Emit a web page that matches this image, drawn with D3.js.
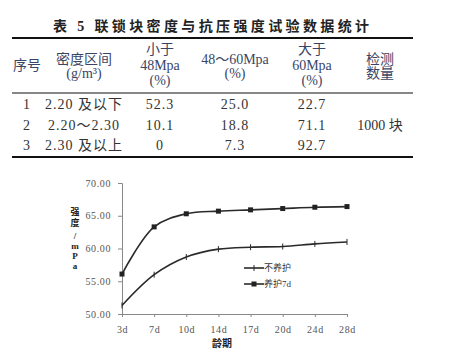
<!DOCTYPE html>
<html>
<head>
<meta charset="utf-8">
<script src="https://cdn.jsdelivr.net/npm/d3@7/dist/d3.min.js"></script>
<style>
  body { margin: 0; background: #fff; }
  svg { display: block; }
</style>
</head>
<body>
<div id="chart"></div>
<script>
// table data
const tableTitle = '表 5 联锁块密度与抗压强度试验数据统计'
const headerLines = [
  ['序号'],
  ['密度区间', '(g/m³)'],
  ['小于', '48Mpa', '(%)'],
  ['48～60Mpa', '(%)'],
  ['大于', '60Mpa', '(%)'],
  ['检测', '数量']
]
const rowIds = ['1', '2', '3']
const densityRanges = ['2.20 及以下', '2.20～2.30', '2.30 及以上']
const below48 = ['52.3', '10.1', '0']
const between48and60 = ['25.0', '18.8', '7.3']
const above60 = ['22.7', '71.1', '92.7']
const sampleCount = '1000 块'

// chart data
const ages = ['3d', '7d', '10d', '14d', '17d', '20d', '24d', '28d']
const noCuring = [51.3, 56.0, 58.7, 59.9, 60.2, 60.3, 60.7, 61.0]
const cured7d = [56.1, 63.3, 65.3, 65.7, 65.9, 66.1, 66.3, 66.4]
const yTicks = [50, 55, 60, 65, 70]
const seriesNames = ['不养护', '养护7d']
const yTitleChars = ['强', '度', '/', 'm', 'P', 'a']

const W = 451, H = 351
const svg = d3.select('#chart').append('svg').attr('width', W).attr('height', H)
const font = '"Liberation Serif", "Noto Sans CJK SC", serif'

// ---- table ----
const colX = [27, 84, 160, 235, 312, 380]
const headerY = [[65], [59, 73], [49, 65, 80], [59, 73], [49, 65, 80], [59, 73]]
const rowY = [104, 125, 145]

svg.append('text')
  .attr('x', 211).attr('y', 26)
  .attr('text-anchor', 'middle').attr('dominant-baseline', 'central')
  .attr('font-family', font).attr('font-size', 14).attr('font-weight', 'bold')
  .attr('fill', '#222')
  .attr('textLength', 316).attr('lengthAdjust', 'spacing')
  .text(tableTitle)

const rules = [{ y: 38, w: 2 }, { y: 93, w: 1 }, { y: 157, w: 2 }]
svg.selectAll('.rule').data(rules).enter().append('line')
  .attr('x1', 12).attr('x2', 413)
  .attr('y1', (d) => d.y).attr('y2', (d) => d.y)
  .attr('stroke', '#111').attr('stroke-width', (d) => d.w)

headerLines.forEach((lines, i) => {
  lines.forEach((l, j) => {
    svg.append('text')
      .attr('x', colX[i]).attr('y', headerY[i][j])
      .attr('text-anchor', 'middle').attr('dominant-baseline', 'central')
      .attr('font-family', font).attr('font-size', 14)
      .attr('fill', '#3a4566')
      .text(l)
  })
})

const tableRows = rowIds.map((id, i) => [id, densityRanges[i], below48[i], between48and60[i], above60[i]])
tableRows.forEach((cells, r) => {
  cells.forEach((c, i) => {
    svg.append('text')
      .attr('x', colX[i]).attr('y', rowY[r])
      .attr('text-anchor', 'middle').attr('dominant-baseline', 'central')
      .attr('font-family', font).attr('font-size', 14)
      .attr('letter-spacing', 1)
      .attr('fill', '#333')
      .text(c)
  })
})
svg.append('text')
  .attr('x', colX[5]).attr('y', rowY[1])
  .attr('text-anchor', 'middle').attr('dominant-baseline', 'central')
  .attr('font-family', font).attr('font-size', 14)
  .attr('fill', '#333')
  .text(sampleCount)

// ---- line chart ----
const x = d3.scalePoint().domain(ages).range([122, 347])
const y = d3.scaleLinear().domain([50, 70]).range([314, 183])

const yAxis = svg.append('g')
  .attr('transform', 'translate(122,0)')
  .call(d3.axisLeft(y).tickValues(yTicks).tickSize(4).tickPadding(7).tickFormat(d3.format('.2f')))
const xAxis = svg.append('g')
  .attr('transform', 'translate(0,314)')
  .call(d3.axisBottom(x).tickSize(3).tickPadding(9).tickSizeOuter(0))

;[yAxis, xAxis].forEach((a) => {
  a.select('.domain').attr('stroke', '#888')
  a.selectAll('.tick line').attr('stroke', '#888')
  a.selectAll('text')
    .attr('font-family', '"Liberation Serif", serif')
    .attr('font-size', 10).attr('letter-spacing', 0.6)
    .attr('fill', '#555')
})

const line = d3.line()
  .x((d, i) => x(ages[i]))
  .y((d) => y(d))
  .curve(d3.curveCatmullRom.alpha(0.5))

svg.append('path').datum(noCuring)
  .attr('d', line).attr('fill', 'none')
  .attr('stroke', '#2a2a2a').attr('stroke-width', 1.6)
svg.append('path').datum(cured7d)
  .attr('d', line).attr('fill', 'none')
  .attr('stroke', '#2a2a2a').attr('stroke-width', 1.6)

svg.selectAll('.plus').data(noCuring).enter().append('line')
  .attr('x1', (d, i) => x(ages[i])).attr('x2', (d, i) => x(ages[i]))
  .attr('y1', (d) => y(d) - 3).attr('y2', (d) => y(d) + 3)
  .attr('stroke', '#2a2a2a').attr('stroke-width', 1)
svg.selectAll('.sq').data(cured7d).enter().append('rect')
  .attr('x', (d, i) => x(ages[i]) - 2.5).attr('y', (d) => y(d) - 2.5)
  .attr('width', 5).attr('height', 5)
  .attr('fill', '#222')

// axis titles
svg.selectAll('.ytitle').data(yTitleChars).enter().append('text')
  .attr('x', 75)
  .attr('y', (d, i) => [212, 223, 236, 246, 256, 266][i])
  .attr('text-anchor', 'middle').attr('dominant-baseline', 'central')
  .attr('font-family', font).attr('font-size', 9).attr('font-weight', 'bold')
  .attr('fill', '#222')
  .text((d) => d)
svg.append('text')
  .attr('x', 222).attr('y', 343)
  .attr('text-anchor', 'middle').attr('dominant-baseline', 'central')
  .attr('font-family', font).attr('font-size', 10).attr('font-weight', 'bold')
  .attr('fill', '#222')
  .text('龄期')

// legend
const legendY = [268, 284]
seriesNames.forEach((name, i) => {
  const g = svg.append('g')
  g.append('line').attr('x1', 244).attr('x2', 264)
    .attr('y1', legendY[i]).attr('y2', legendY[i])
    .attr('stroke', '#2a2a2a').attr('stroke-width', 1.6)
  if (i === 0) {
    g.append('line').attr('x1', 254).attr('x2', 254)
      .attr('y1', legendY[i] - 3).attr('y2', legendY[i] + 3)
      .attr('stroke', '#2a2a2a').attr('stroke-width', 1)
  } else {
    g.append('rect').attr('x', 251.5).attr('y', legendY[i] - 2.5)
      .attr('width', 5).attr('height', 5).attr('fill', '#222')
  }
  g.append('text').attr('x', 264).attr('y', legendY[i])
    .attr('dominant-baseline', 'central')
    .attr('font-family', font).attr('font-size', 9)
    .attr('fill', '#333')
    .text(name)
})
</script>
</body>
</html>
